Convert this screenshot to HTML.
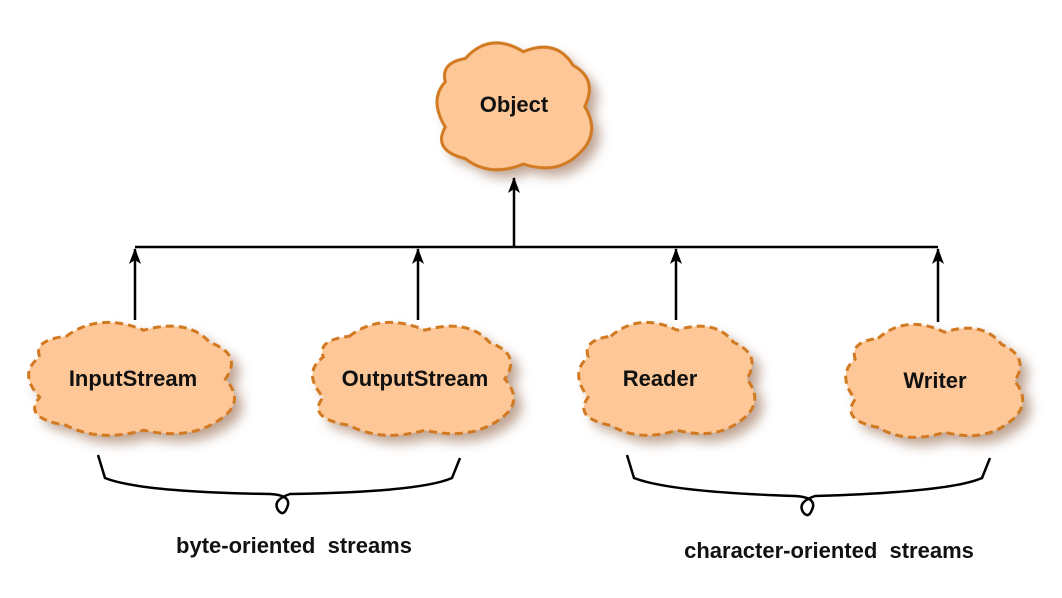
<!DOCTYPE html>
<html><head><style>
html,body{margin:0;padding:0;background:#fff;}
svg{display:block;}
text{font-family:"Liberation Sans",Arial,sans-serif;font-weight:bold;fill:#111;}
</style></head><body>
<svg width="1062" height="598" viewBox="0 0 1062 598" xmlns="http://www.w3.org/2000/svg">
<defs>
<path id="cl" d="M20,15 Q35,-5 55,10 Q75,0 85,20 Q100,30 92,50 Q102,70 88,85 Q75,100 55,92 Q35,102 20,88 Q0,82 8,65 Q-2,45 8,32 Q5,18 20,15 Z"/>
<filter id="sh" x="-20%" y="-20%" width="150%" height="150%"><feGaussianBlur stdDeviation="6"/></filter>
<marker id="ar" markerWidth="16" markerHeight="12" refX="15" refY="6" orient="auto" markerUnits="userSpaceOnUse"><path d="M16,6 L0,0 L4,6 L0,12 Z" fill="#000"/></marker>
</defs>
<g fill="#8a5a3a" opacity="0.55" filter="url(#sh)">
<use href="#cl" transform="translate(440,46) scale(1.66,1.37)"/>
<use href="#cl" transform="translate(30,326) scale(2.21,1.22)"/>
<use href="#cl" transform="translate(314,326) scale(2.16,1.22)"/>
<use href="#cl" transform="translate(581,326) scale(1.89,1.22)"/>
<use href="#cl" transform="translate(848,328) scale(1.90,1.22)"/>
</g>
<path d="M20,15 Q35,-5 55,10 Q75,0 85,20 Q100,30 92,50 Q102,70 88,85 Q75,100 55,92 Q35,102 20,88 Q0,82 8,65 Q-2,45 8,32 Q5,18 20,15 Z" transform="translate(432,38) scale(1.66,1.37)" fill="#fdc797" stroke="#d27a22" vector-effect="non-scaling-stroke" style="stroke-width:3"/>
<g fill="#fdc797" stroke="#d27a22" stroke-dasharray="8,5">
<path d="M20,15 Q35,-5 55,10 Q75,0 85,20 Q100,30 92,50 Q102,70 88,85 Q75,100 55,92 Q35,102 20,88 Q0,82 8,65 Q-2,45 8,32 Q5,18 20,15 Z" transform="translate(22,318) scale(2.21,1.22)" vector-effect="non-scaling-stroke" style="stroke-width:3"/>
<path d="M20,15 Q35,-5 55,10 Q75,0 85,20 Q100,30 92,50 Q102,70 88,85 Q75,100 55,92 Q35,102 20,88 Q0,82 8,65 Q-2,45 8,32 Q5,18 20,15 Z" transform="translate(306,318) scale(2.16,1.22)" vector-effect="non-scaling-stroke" style="stroke-width:3"/>
<path d="M20,15 Q35,-5 55,10 Q75,0 85,20 Q100,30 92,50 Q102,70 88,85 Q75,100 55,92 Q35,102 20,88 Q0,82 8,65 Q-2,45 8,32 Q5,18 20,15 Z" transform="translate(573,318) scale(1.89,1.22)" vector-effect="non-scaling-stroke" style="stroke-width:3"/>
<path d="M20,15 Q35,-5 55,10 Q75,0 85,20 Q100,30 92,50 Q102,70 88,85 Q75,100 55,92 Q35,102 20,88 Q0,82 8,65 Q-2,45 8,32 Q5,18 20,15 Z" transform="translate(840,320) scale(1.90,1.22)" vector-effect="non-scaling-stroke" style="stroke-width:3"/>
</g>
<g stroke="#000" stroke-width="2.5" fill="none">
<line x1="135" y1="247" x2="938" y2="247"/>
<line x1="514" y1="247" x2="514" y2="178" marker-end="url(#ar)"/>
<line x1="135" y1="320" x2="135" y2="249" marker-end="url(#ar)"/>
<line x1="418" y1="320" x2="418" y2="249" marker-end="url(#ar)"/>
<line x1="676" y1="320" x2="676" y2="249" marker-end="url(#ar)"/>
<line x1="938" y1="322" x2="938" y2="249" marker-end="url(#ar)"/>
<path d="M98,455 L105,478 Q140,492 270,494 Q290,495 288,505 Q284,518 278,510 Q272,500 290,494 Q420,492 452,478 L460,458"/>
<path d="M627,455 L634,478 Q670,492 795,496 Q815,497 813,507 Q809,520 803,512 Q797,502 815,496 Q950,492 982,478 L990,458"/>
</g>
<text x="514" y="112" font-size="22" text-anchor="middle">Object</text>
<text x="133" y="386" font-size="22" text-anchor="middle">InputStream</text>
<text x="415" y="386" font-size="22" text-anchor="middle">OutputStream</text>
<text x="660" y="386" font-size="22" text-anchor="middle">Reader</text>
<text x="935" y="388" font-size="22" text-anchor="middle">Writer</text>
<text x="294" y="553" font-size="22" text-anchor="middle" xml:space="preserve">byte-oriented  streams</text>
<text x="829" y="558" font-size="22" text-anchor="middle" xml:space="preserve">character-oriented  streams</text>
</svg>
</body></html>
